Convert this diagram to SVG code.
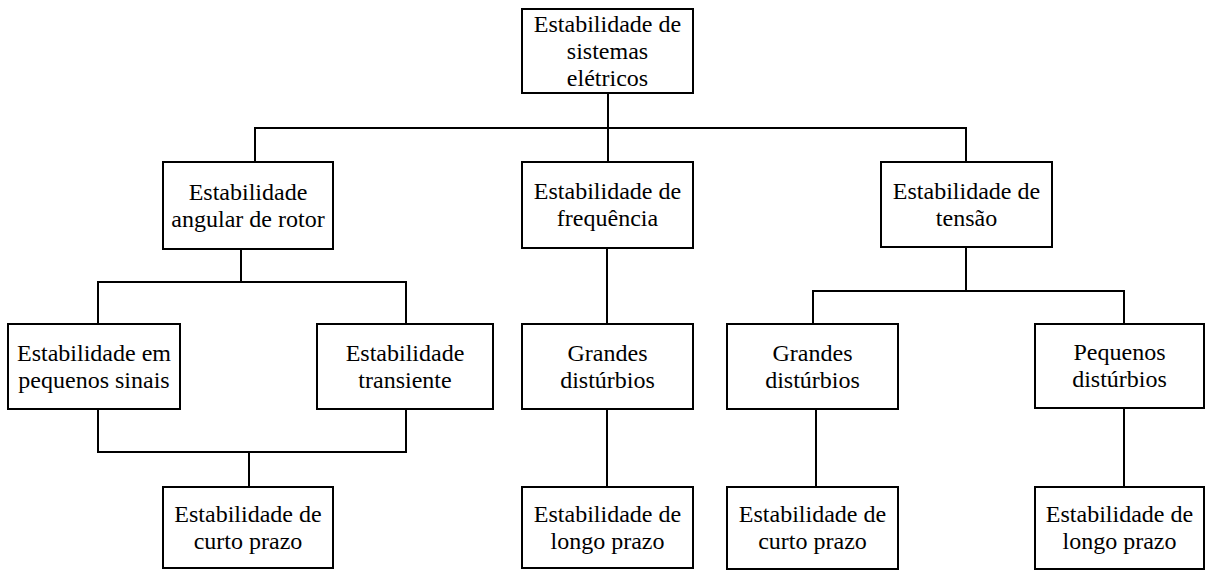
<svg xmlns="http://www.w3.org/2000/svg" width="1205" height="572" viewBox="0 0 1205 572">
<style>
.box{fill:#fff;stroke:#000;stroke-width:2}
.ln{fill:none;stroke:#000;stroke-width:2}
text{font-family:'Liberation Serif',serif;font-size:24px;fill:#000;text-anchor:middle}
</style>
<rect width="1205" height="572" fill="#fff"/>
<g id="connectors">
<path class="ln" d="M608 93V162M255 162V128H966V162"/>
<path class="ln" d="M241 249V282M98 324V282H406V324"/>
<path class="ln" d="M98 409V452H406V409M249 452V487"/>
<path class="ln" d="M607 248V324M607 409V487"/>
<path class="ln" d="M966 247V291M813 324V291H1124V324"/>
<path class="ln" d="M816 409V487M1124 408V487"/>
</g>
<g font-family="Liberation Serif, serif">
<g id="n-root"><rect class="box" x="522" y="9" width="171" height="84"/>
<text x="607.5" y="32">Estabilidade de</text><text x="607.5" y="59">sistemas</text><text x="607.5" y="86">elétricos</text></g>
<g id="n-angular"><rect class="box" x="163" y="162" width="170" height="87"/>
<text x="248" y="199.5">Estabilidade</text><text x="248" y="226.5">angular de rotor</text></g>
<g id="n-freq"><rect class="box" x="522" y="162" width="171" height="86"/>
<text x="607.5" y="199">Estabilidade de</text><text x="607.5" y="226">frequência</text></g>
<g id="n-tensao"><rect class="box" x="881" y="162" width="171" height="85"/>
<text x="966.5" y="198.5">Estabilidade de</text><text x="966.5" y="225.5">tensão</text></g>
<g id="n-peqsinais"><rect class="box" x="8" y="324" width="172" height="85"/>
<text x="94" y="360.5">Estabilidade em</text><text x="94" y="387.5">pequenos sinais</text></g>
<g id="n-transiente"><rect class="box" x="317" y="324" width="176" height="85"/>
<text x="405" y="360.5">Estabilidade</text><text x="405" y="387.5">transiente</text></g>
<g id="n-grandes1"><rect class="box" x="522" y="324" width="171" height="85"/>
<text x="607.5" y="360.5">Grandes</text><text x="607.5" y="387.5">distúrbios</text></g>
<g id="n-grandes2"><rect class="box" x="727" y="324" width="171" height="85"/>
<text x="812.5" y="360.5">Grandes</text><text x="812.5" y="387.5">distúrbios</text></g>
<g id="n-pequenos"><rect class="box" x="1035" y="324" width="169" height="84"/>
<text x="1119.5" y="360">Pequenos</text><text x="1119.5" y="387">distúrbios</text></g>
<g id="n-curto1"><rect class="box" x="163" y="487" width="170" height="81"/>
<text x="248" y="521.5">Estabilidade de</text><text x="248" y="548.5">curto prazo</text></g>
<g id="n-longo1"><rect class="box" x="522" y="487" width="171" height="81"/>
<text x="607.5" y="521.5">Estabilidade de</text><text x="607.5" y="548.5">longo prazo</text></g>
<g id="n-curto2"><rect class="box" x="727" y="487" width="171" height="82"/>
<text x="812.5" y="522">Estabilidade de</text><text x="812.5" y="549">curto prazo</text></g>
<g id="n-longo2"><rect class="box" x="1035" y="487" width="169" height="82"/>
<text x="1119.5" y="522">Estabilidade de</text><text x="1119.5" y="549">longo prazo</text></g>
</g>
</svg>
